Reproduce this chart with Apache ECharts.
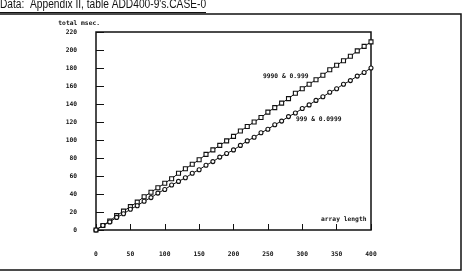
<!DOCTYPE html>
<html>
<head>
<meta charset="UTF-8">
<title>ADD400-9 CASE-0</title>
<style type="text/css">
   body{ margin:0; background-color:#ffffff; }
   #container{ width:463px; height:273px; }
</style>
</head>
<body>
<div id="container"></div>
<script src="https://cdn.jsdelivr.net/npm/echarts@6/dist/echarts.min.js"></script>
<script type="text/javascript">
// array length (x)
var lengths = [0,10,20,30,40,50,60,70,80,90,100,110,120,130,140,150,160,170,180,190,200,
               210,220,230,240,250,260,270,280,290,300,310,320,330,340,350,360,370,380,390,400];
// 9990 & 0.999 (squares)
var msecA = [0,5,10,16,21,26,31,37,42,47,52,57,63,68,73,78,84,89,94,99,104,
             110,115,120,125,131,136,141,146,152,157,162,167,172,178,183,188,193,199,204,209];
// 999 & 0.0999 (circles)
var msecB = [0,5,9,14,18,23,27,32,36,41,45,50,54,58,63,67,72,76,81,85,89,
             94,99,103,108,112,117,121,126,130,135,139,144,148,153,157,162,166,171,175,180];
var nameA = '9990 & 0.999';
var nameB = '999 & 0.0999';
var yTicks = [0,20,40,60,80,100,120,140,160,180,200,220];

function pairs(xs, ys){
   var out = [];
   for(var i=0;i<xs.length;i++){ out.push([xs[i], ys[i]]); }
   return out;
}

var dom = document.getElementById("container");
var myChart = echarts.init(dom);
var mono = 'DejaVu Sans Mono';
var monoFont = 'bold 6.3px "DejaVu Sans Mono"';

var option = {
   animation: false,
   backgroundColor: '#ffffff',
   grid: {
      left: 96, right: 92, top: 32, bottom: 43,
      show: true, borderColor: '#111', borderWidth: 1.5
   },
   xAxis: {
      type: 'value', min: 0, max: 400, interval: 50,
      axisLine: { show: false },
      axisTick: { show: true, inside: true, length: 6, lineStyle: { color: '#111' } },
      splitLine: { show: false },
      axisLabel: { margin: 21, color: '#111', fontFamily: mono, fontSize: 6.3, fontWeight: 'bold' }
   },
   yAxis: {
      type: 'value', min: 0, max: 220, interval: 20,
      name: 'total msec.', nameLocation: 'end', nameGap: 6,
      nameTextStyle: { color: '#111', fontFamily: mono, fontSize: 6.3, fontWeight: 'bold', align: 'right', padding: [0, -4, 0, 0] },
      axisLine: { show: false },
      axisTick: { show: true, inside: true, length: 8, lineStyle: { color: '#111' } },
      splitLine: { show: false },
      axisLabel: {
         margin: 19, color: '#111', fontFamily: mono, fontSize: 6.3, fontWeight: 'bold',
         formatter: function(v){ return yTicks.indexOf(v) >= 0 ? String(v) : ''; }
      }
   },
   series: [
      {
         name: nameA, type: 'line', data: pairs(lengths, msecA),
         symbol: 'rect', symbolSize: 4,
         lineStyle: { color: '#111', width: 1 },
         itemStyle: { color: '#fff', borderColor: '#111', borderWidth: 1.1 }
      },
      {
         name: nameB, type: 'line', data: pairs(lengths, msecB),
         symbol: 'circle', symbolSize: 4,
         lineStyle: { color: '#111', width: 1 },
         itemStyle: { color: '#fff', borderColor: '#111', borderWidth: 1.1 }
      }
   ],
   graphic: [
      { type: 'text', x: 0, y: -1, scaleX: 0.85, originX: 0,
        style: { text: "Data:  Appendix II, table ADD400-9's.CASE-0", fill: '#111', font: '12px "Liberation Sans"' } },
      { type: 'line', shape: { x1: 0, y1: 12.5, x2: 206, y2: 12.5 }, style: { stroke: '#111', lineWidth: 1.2 } },
      { type: 'rect', shape: { x: -5, y: 14, width: 466, height: 256 }, style: { fill: 'none', stroke: '#111', lineWidth: 1.5 } },
      { type: 'text', left: 263, top: 73, style: { text: nameA, fill: '#111', font: monoFont } },
      { type: 'text', left: 296, top: 116, style: { text: nameB, fill: '#111', font: monoFont } },
      { type: 'text', left: 321, top: 216, style: { text: 'array length', fill: '#111', font: monoFont } }
   ]
};
myChart.setOption(option, true);
</script>
</body>
</html>
